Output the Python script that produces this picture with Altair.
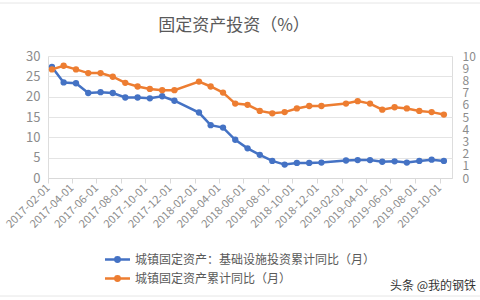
import altair as alt
import pandas as pd

dates = [
    "2017-02-01", "2017-03-01", "2017-04-01", "2017-05-01", "2017-06-01", "2017-07-01",
    "2017-08-01", "2017-09-01", "2017-10-01", "2017-11-01", "2017-12-01",
    "2018-02-01", "2018-03-01", "2018-04-01", "2018-05-01", "2018-06-01", "2018-07-01",
    "2018-08-01", "2018-09-01", "2018-10-01", "2018-11-01", "2018-12-01",
    "2019-02-01", "2019-03-01", "2019-04-01", "2019-05-01", "2019-06-01", "2019-07-01",
    "2019-08-01", "2019-09-01", "2019-10-01",
]
infra = [27.3, 23.5, 23.3, 20.9, 21.1, 20.9, 19.8, 19.8, 19.6, 20.1, 19.0,
         16.1, 13.0, 12.4, 9.4, 7.3, 5.7, 4.2, 3.3, 3.7, 3.7, 3.8,
         4.3, 4.4, 4.4, 4.0, 4.1, 3.8, 4.2, 4.5, 4.2]
fai = [8.9, 9.2, 8.9, 8.6, 8.6, 8.3, 7.8, 7.5, 7.3, 7.2, 7.2,
       7.9, 7.5, 7.0, 6.1, 6.0, 5.5, 5.3, 5.4, 5.7, 5.9, 5.9,
       6.1, 6.3, 6.1, 5.6, 5.8, 5.7, 5.5, 5.4, 5.2]
s1 = "城镇固定资产：基础设施投资累计同比（月）"
s2 = "城镇固定资产累计同比（月）"
tick_dates = [
    "2017-02-01", "2017-04-01", "2017-06-01", "2017-08-01", "2017-10-01", "2017-12-01",
    "2018-02-01", "2018-04-01", "2018-06-01", "2018-08-01", "2018-10-01", "2018-12-01",
    "2019-02-01", "2019-04-01", "2019-06-01", "2019-08-01", "2019-10-01",
]
x_domain = ["2017-02-01", "2019-11-01"]
left_ticks = [0, 5, 10, 15, 20, 25, 30]
right_ticks = [0, 1, 2, 3, 4, 5, 6, 7, 8, 9, 10]
title_text = "固定资产投资（%）"
watermark = "头条 @我的钢铁"

BLUE = "#4472C4"
ORANGE = "#ED7D31"
FONT = "Noto Sans CJK SC"
LABEL = "#8c8c8c"


def dt(s):
    y, m, d = (int(v) for v in s.split("-"))
    return alt.DateTime(year=y, month=m, date=d, utc=True)


df = pd.DataFrame({
    "date": dates * 2,
    "value": infra + fai,
    "series": [s1] * len(infra) + [s2] * len(fai),
})

x_enc = alt.X(
    "date:T",
    timeUnit="utcyearmonth",
    bandPosition=0.35,
    title=None,
    scale=alt.Scale(type="utc", domain=[dt(d) for d in x_domain]),
    axis=alt.Axis(
        values=[dt(d) for d in tick_dates],
        labelExpr="utcFormat(datum.value, '%Y-%m-%d')",
        labelAngle=-45,
        labelAlign="right",
        labelBaseline="middle",
        labelFontSize=11,
        labelColor=LABEL,
        labelFont=FONT,
        labelPadding=3,
        labelOverlap=False,
        grid=False,
        domainColor="#d9d9d9",
        tickColor="#d9d9d9",
        tickSize=5,
    ),
)

color_enc = alt.Color(
    "series:N",
    scale=alt.Scale(domain=[s1, s2], range=[BLUE, ORANGE]),
    legend=alt.Legend(
        title=None,
        orient="none",
        legendX=58,
        legendY=192,
        labelFont=FONT,
        labelFontSize=12,
        labelColor="#595959",
        symbolType="M-1.25,0H1.25M0.22,0A0.22,0.22 0 1,1 -0.22,0A0.22,0.22 0 1,1 0.22,0",
        symbolSize=400,
        symbolStrokeWidth=2.5,
        rowPadding=0,
        labelOffset=6,
        labelLimit=400,
    ),
)

base = alt.Chart(df)

left = base.transform_filter(alt.datum.series == s1).mark_line(
    strokeWidth=2.5,
    point=alt.OverlayMarkDef(filled=True, size=40),
).encode(
    x=x_enc,
    y=alt.Y(
        "value:Q",
        title=None,
        scale=alt.Scale(domain=[0, 30]),
        axis=alt.Axis(
            orient="left",
            values=left_ticks,
            labelFontSize=13,
            labelColor=LABEL,
            labelFont=FONT,
            labelPadding=8,
            labelOverlap=False,
            domain=False,
            ticks=False,
            grid=True,
            gridColor="#e4e4e4",
        ),
    ),
    color=color_enc,
)

right = base.transform_filter(alt.datum.series == s2).mark_line(
    strokeWidth=2.5,
    point=alt.OverlayMarkDef(filled=True, size=40),
).encode(
    x=x_enc,
    y=alt.Y(
        "value:Q",
        title=None,
        scale=alt.Scale(domain=[0, 10]),
        axis=alt.Axis(
            orient="right",
            values=right_ticks,
            labelFontSize=12,
            labelColor=LABEL,
            labelFont=FONT,
            labelPadding=10,
            labelOverlap=False,
            labelBound=False,
            domain=False,
            ticks=False,
            grid=False,
        ),
    ),
    color=color_enc,
)

title_mark = alt.Chart(pd.DataFrame({"t": [title_text]})).mark_text(
    align="center", baseline="middle", fontSize=17, font=FONT, color="#595959"
).encode(text="t:N", x=alt.value(186), y=alt.value(-30))

wm = alt.Chart(pd.DataFrame({"t": [watermark]})).mark_text(
    align="right", baseline="alphabetic", fontSize=12, font=FONT, color="#333333"
).encode(text="t:N", x=alt.value(428), y=alt.value(234))

top_border = alt.Chart(pd.DataFrame({"b": [0]})).mark_rule(
    color="#e6e6e6", strokeWidth=1
).encode(x=alt.value(-48), x2=alt.value(432), y=alt.value(-53))

bottom_border = alt.Chart(pd.DataFrame({"b": [0]})).mark_rule(
    color="#e6e6e6", strokeWidth=1
).encode(x=alt.value(-48), x2=alt.value(432), y=alt.value(240))

chart = alt.layer(left, right, title_mark, wm, top_border, bottom_border).resolve_scale(
    y="independent"
).properties(
    width=404,
    height=122,
    padding={"left": 48, "top": 56, "right": 28, "bottom": 122},
    autosize=alt.AutoSizeParams(type="none"),
).configure_view(stroke=None).configure(background="white")

chart.save("out.html", embed_options={"renderer": "svg", "actions": False})
